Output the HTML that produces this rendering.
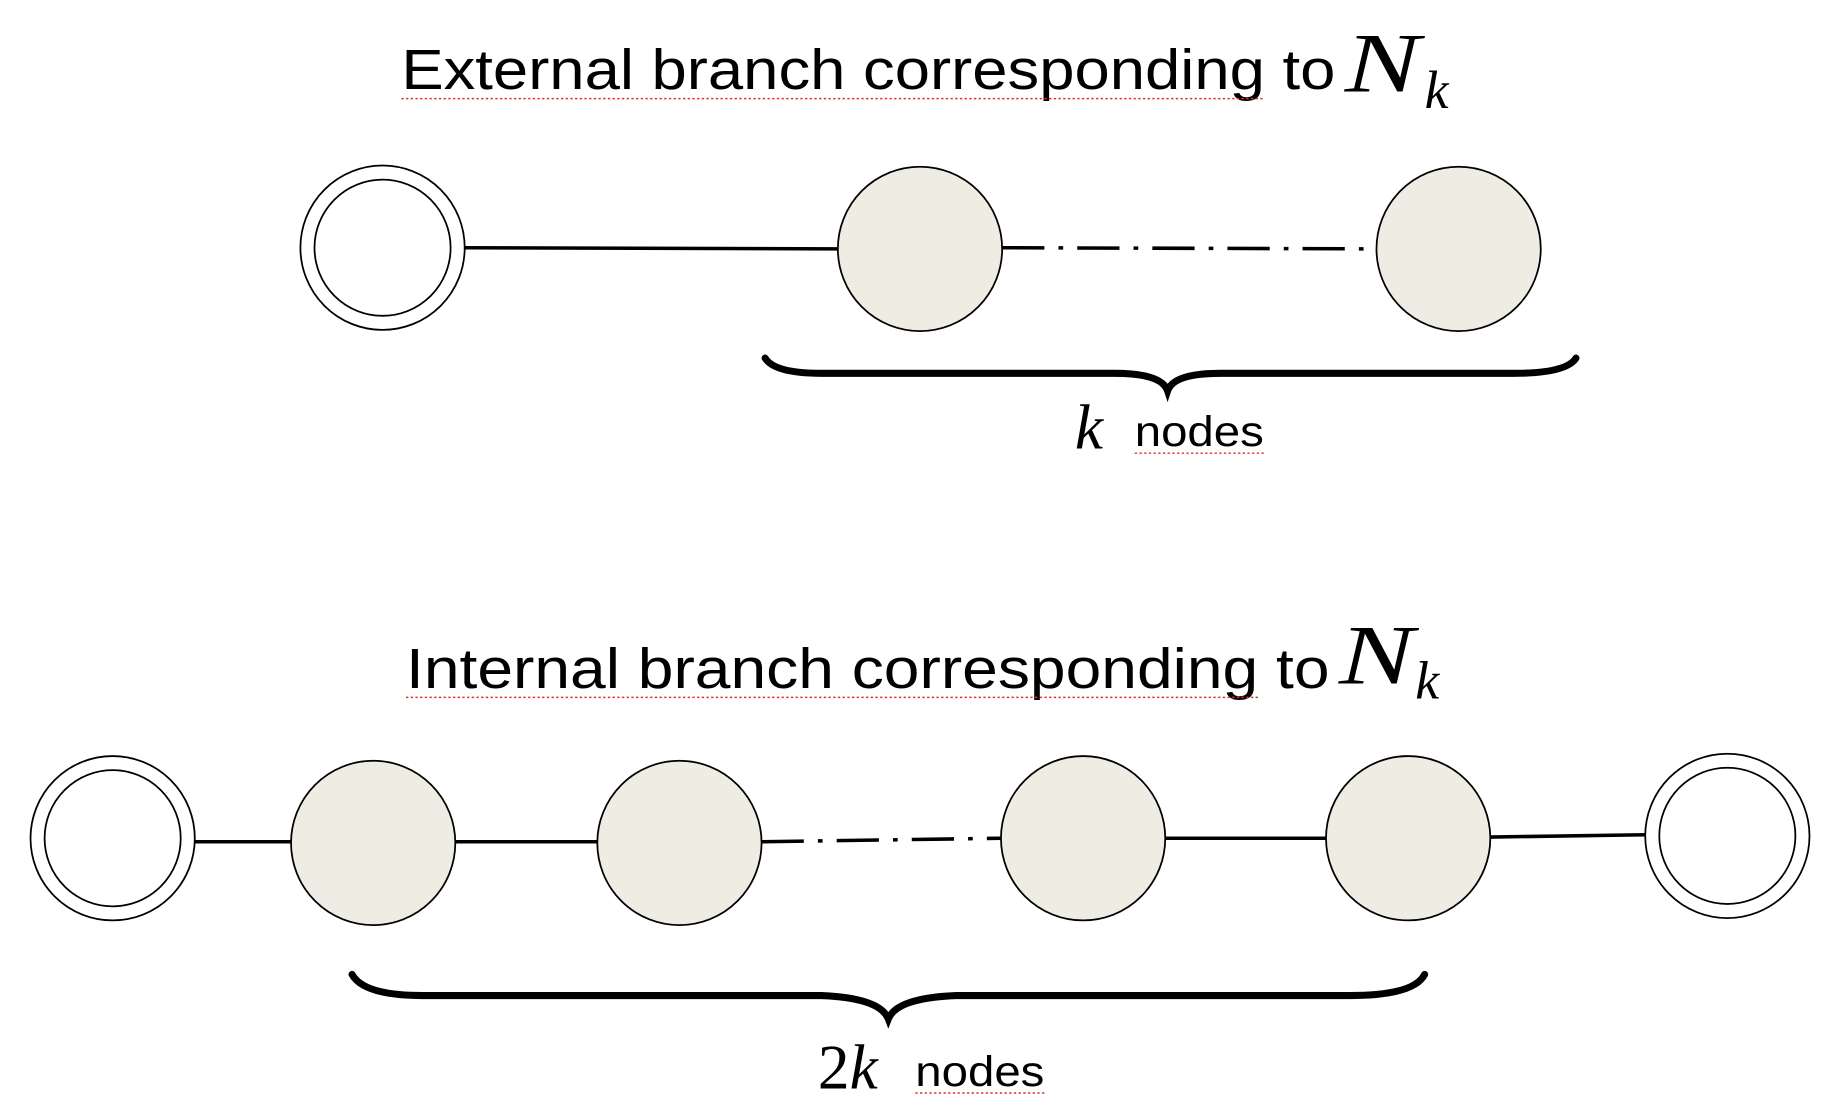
<!DOCTYPE html>
<html><head><meta charset="utf-8"><style>html,body{margin:0;padding:0;background:#fff;}svg{display:block}</style></head>
<body>
<svg width="1840" height="1120" viewBox="0 0 1568 954" preserveAspectRatio="none" xmlns="http://www.w3.org/2000/svg">
<rect width="1568" height="954" fill="#fff"/>
<g font-family="'Liberation Sans', sans-serif" fill="#000">
<text x="342" y="76" font-size="48" textLength="796" lengthAdjust="spacingAndGlyphs">External branch corresponding to</text>
<text x="1146" y="78" font-size="72" font-family="'Liberation Serif', serif" font-style="italic" textLength="64" lengthAdjust="spacingAndGlyphs">N</text>
<text x="1214" y="92" font-size="46" font-family="'Liberation Serif', serif" font-style="italic">k</text>
<text x="346" y="586" font-size="48" textLength="787" lengthAdjust="spacingAndGlyphs">Internal branch corresponding to</text>
<text x="1141" y="582" font-size="72" font-family="'Liberation Serif', serif" font-style="italic" textLength="64" lengthAdjust="spacingAndGlyphs">N</text>
<text x="1206" y="595" font-size="46" font-family="'Liberation Serif', serif" font-style="italic">k</text>
<text x="916" y="382" font-size="54" font-family="'Liberation Serif', serif" font-style="italic">k</text>
<text x="967" y="380" font-size="36" textLength="110" lengthAdjust="spacingAndGlyphs">nodes</text>
<text x="697" y="927" font-size="54" font-family="'Liberation Serif', serif">2<tspan font-style="italic">k</tspan></text>
<text x="780" y="925" font-size="36" textLength="110" lengthAdjust="spacingAndGlyphs">nodes</text>
</g>
<g stroke="#d33" stroke-width="1.2" fill="none" stroke-dasharray="2 2">
<line x1="342" y1="84" x2="1078" y2="84"/>
<line x1="346" y1="594" x2="1072" y2="594"/>
<line x1="967" y1="386" x2="1078" y2="386"/>
<line x1="780" y1="931" x2="891" y2="931"/>
</g>
<g stroke="#000" stroke-width="3" fill="none">
<line x1="396" y1="211" x2="714" y2="212"/>
<line x1="854" y1="211" x2="1173" y2="212" stroke-dasharray="36 12 4 12"/>
<line x1="166" y1="717" x2="249" y2="717"/>
<line x1="388" y1="717" x2="510" y2="717"/>
<line x1="649" y1="717" x2="853" y2="714" stroke-dasharray="36 12 4 12"/>
<line x1="993" y1="714" x2="1130" y2="714"/>
<line x1="1270" y1="713" x2="1403" y2="711"/>
</g>
<g stroke="#000" stroke-width="1.5">
<circle cx="326" cy="211" r="70" fill="#fff"/>
<circle cx="326" cy="211" r="58" fill="#fff"/>
<circle cx="784" cy="212" r="70" fill="#eeece3"/>
<circle cx="1243" cy="212" r="70" fill="#eeece3"/>
<circle cx="96" cy="714" r="70" fill="#fff"/>
<circle cx="96" cy="714" r="58" fill="#fff"/>
<circle cx="318" cy="718" r="70" fill="#eeece3"/>
<circle cx="579" cy="718" r="70" fill="#eeece3"/>
<circle cx="923" cy="714" r="70" fill="#eeece3"/>
<circle cx="1200" cy="714" r="70" fill="#eeece3"/>
<circle cx="1472" cy="712" r="70" fill="#fff"/>
<circle cx="1472" cy="712" r="58" fill="#fff"/>
</g>
<g stroke="#000" stroke-width="6" fill="none" stroke-linecap="round">
<path d="M652 305 Q660 318 700 318 L950 318 Q990 318 995 333 Q1000 318 1040 318 L1290 318 Q1335 318 1343 305"/>
<path d="M300 830 Q310 848 360 848 L700 848 Q750 850 757 868 Q764 850 815 848 L1150 848 Q1205 848 1214 830"/>
</g>
</svg>
</body></html>
